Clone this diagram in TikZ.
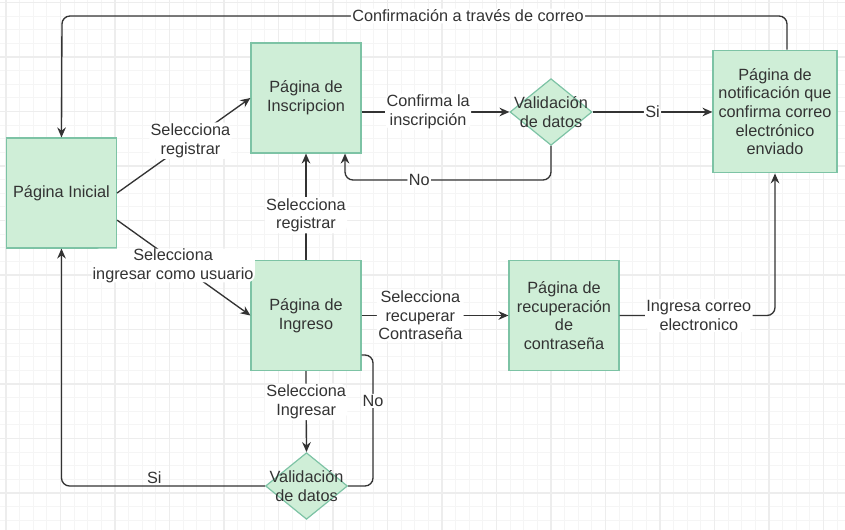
\documentclass[tikz,border=0pt]{standalone}
\usepackage{fontspec}
\setmainfont{Liberation Sans}
\usetikzlibrary{arrows.meta,positioning,shapes.geometric}

\definecolor{pagefill}{RGB}{207,238,215}
\definecolor{pageline}{RGB}{125,195,165}
\definecolor{ink}{RGB}{51,51,51}

\begin{document}
\begin{tikzpicture}[
  x=0.75pt, y=-0.75pt,
  font=\fontsize{12.2}{14}\selectfont,
  >={Stealth[length=7.5pt,width=6.5pt,inset=2.5pt]},
  page/.style={draw=pageline, fill=pagefill, line width=0.9pt, text=ink, align=center, minimum width=82.5pt, minimum height=82.5pt, inner sep=2pt},
  check/.style={draw=pageline, fill=pagefill, line width=0.9pt, diamond, minimum width=61.5pt, minimum height=50pt, inner sep=0pt},
  lbl/.style={fill=white, text=ink, align=center, inner sep=1pt},
  edge/.style={->, draw=ink, line width=1pt, rounded corners=6pt},
  minorgrid/.style={draw=black!4, line width=0.6pt},
  majorgrid/.style={draw=black!7, line width=0.8pt}
]
\useasboundingbox (0,0) rectangle (845,530);
\fill[white] (0,0) rectangle (845,530);

% grid
\foreach \k in {0,...,62} {
  \draw[minorgrid] (6+\k*13.625,0) -- (6+\k*13.625,530);
}
\foreach \k in {0,...,38} {
  \draw[minorgrid] (0,2.5+\k*13.625) -- (845,2.5+\k*13.625);
}
\foreach \k in {0,...,15} {
  \draw[majorgrid] (6+\k*54.5,0) -- (6+\k*54.5,530);
}
\foreach \k in {0,...,9} {
  \draw[majorgrid] (0,2.5+\k*54.5) -- (845,2.5+\k*54.5);
}

% pages
\node[page] (inicial) at (61.5,193) {Página Inicial};
\node[page] (inscrip) at (306,98) {Página de\\Inscripcion};
\node[page, minimum width=93pt, minimum height=92pt] (notif) at (775,111.5) {Página de\\notificación que\\confirma correo\\electrónico\\enviado};
\node[page] (ingreso) at (306,315.5) {Página de\\Ingreso};
\node[page] (recup) at (564,315.5) {Página de\\recuperación\\de\\contraseña};
\node[check, label={[text=ink, align=center]center:Validación\\de datos}] (valreg) at (551,112) {};
\node[check, label={[text=ink, align=center]center:Validación\\de datos}] (valing) at (306.5,486) {};

\coordinate (topturn) at (62,16);
\coordinate (noreg) at (345,180);
\coordinate (noing) at (373,355);

% connectors
\draw[edge] (inicial.east) -- node[lbl, pos=0.55] {Selecciona\\registrar} (inscrip.west);
\draw[edge] (inicial.-26) -- node[lbl, pos=0.42, yshift=-4pt, inner ysep=0pt] {Selecciona\\ingresar como usuario} (ingreso.west);
\draw[edge] ([xshift=9pt]notif.north) |- node[lbl, pos=0.72] {Confirmación a través de correo} (topturn) -- (inicial.north);
\draw[edge] (inscrip.east |- valreg.west) -- node[lbl, pos=0.45] {Confirma la\\inscripción} (valreg.west);
\draw[edge] (valreg.east) -- node[lbl] {Si} (notif.west |- valreg.east);
\draw[edge] (valreg.south) |- node[lbl, pos=0.82] {No} (noreg) -- (noreg |- inscrip.south);
\draw[edge] (ingreso.north) -- node[lbl, pos=0.42] {Selecciona\\registrar} (inscrip.south);
\draw[edge] (ingreso.east) -- node[lbl, pos=0.4] {Selecciona\\recuperar\\Contraseña} (recup.west);
\draw[edge] (recup.east) -| node[lbl, pos=0.255] {Ingresa correo\\electronico} (notif.south);
\draw[edge] (ingreso.south) -- node[lbl, pos=0.38] {Selecciona\\Ingresar} (valing.north);
\draw[edge] (valing.west) -| node[above, text=ink, inner sep=1pt, pos=0.272] {Si} (inicial.south);
\draw[edge, -] (valing.east) -| node[lbl, pos=0.825] {No} (noing) -- (noing -| ingreso.east);
\end{tikzpicture}
\end{document}
